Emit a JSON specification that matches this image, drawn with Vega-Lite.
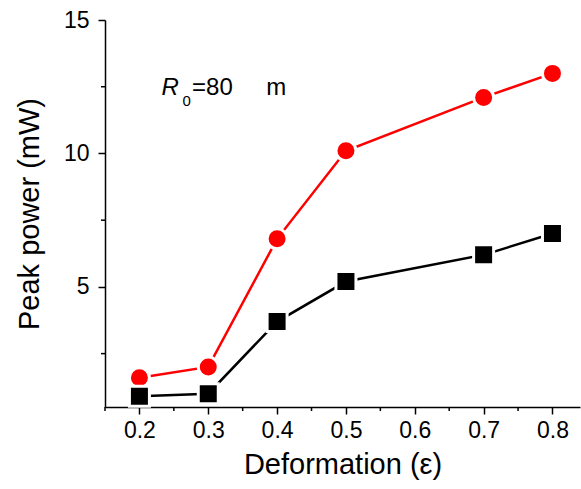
{
  "$schema": "https://vega.github.io/schema/vega-lite/v6.json",
  "autosize": "none",
  "width": 475,
  "height": 387,
  "padding": {"left": 105, "top": 20, "right": 1, "bottom": 82},
  "background": "white",
  "config": {
    "view": {"stroke": null},
    "font": "Liberation Sans",
    "axis": {"grid": false, "domainColor": "black", "tickColor": "black", "labelColor": "black", "titleColor": "black", "labelFont": "Liberation Sans", "titleFont": "Liberation Sans", "titleFontWeight": "normal", "domainWidth": 1.5, "tickWidth": 1.5}
  },
  "datasets": {
    "series": [
      {"eps": 0.2, "P": 1.6, "s": "red"},
      {"eps": 0.3, "P": 2.0, "s": "red"},
      {"eps": 0.4, "P": 6.8, "s": "red"},
      {"eps": 0.5, "P": 10.1, "s": "red"},
      {"eps": 0.7, "P": 12.1, "s": "red"},
      {"eps": 0.8, "P": 13.0, "s": "red"},
      {"eps": 0.2, "P": 0.9, "s": "black"},
      {"eps": 0.3, "P": 1.0, "s": "black"},
      {"eps": 0.4, "P": 3.7, "s": "black"},
      {"eps": 0.5, "P": 5.2, "s": "black"},
      {"eps": 0.7, "P": 6.2, "s": "black"},
      {"eps": 0.8, "P": 7.0, "s": "black"}
    ],
    "xminor": [{"v": 0.15}, {"v": 0.25}, {"v": 0.35}, {"v": 0.45}, {"v": 0.55}, {"v": 0.65}, {"v": 0.75}],
    "yminor": [{"v": 2.5}, {"v": 7.5}, {"v": 12.5}]
  },
  "layer": [
    {
      "data": {"name": "series"},
      "mark": {"type": "line", "strokeWidth": 2.5, "clip": false},
      "encoding": {
        "x": {"field": "eps", "type": "quantitative", "scale": {"domain": [0.15, 0.84], "nice": false, "zero": false},
              "axis": {"title": "Deformation (ε)", "values": [0.2, 0.3, 0.4, 0.5, 0.6, 0.7, 0.8], "format": ".1f",
                       "tickSize": 7, "labelFontSize": 23, "titleFontSize": 29, "labelPadding": 5, "titlePadding": 8, "labelOverlap": false, "labelFlush": false}},
        "y": {"field": "P", "type": "quantitative", "scale": {"domain": [0.5, 15], "nice": false, "zero": false},
              "axis": {"title": "Peak power (mW)", "values": [5, 10, 15], "format": "d",
                       "tickSize": 7, "labelFontSize": 23, "titleFontSize": 29, "labelPadding": 9, "titlePadding": 19, "labelOverlap": false, "labelFlush": false}},
        "color": {"field": "s", "type": "nominal", "scale": {"domain": ["red", "black"], "range": ["#ff0000", "#000000"]}, "legend": null},
        "detail": {"field": "s"}
      }
    },
    {
      "data": {"name": "series"},
      "mark": {"type": "point", "filled": true, "opacity": 1, "size": 400, "stroke": "white", "strokeWidth": 3},
      "encoding": {
        "x": {"field": "eps", "type": "quantitative"},
        "y": {"field": "P", "type": "quantitative"},
        "color": {"field": "s", "type": "nominal", "legend": null},
        "shape": {"field": "s", "type": "nominal", "scale": {"domain": ["red", "black"], "range": ["circle", "square"]}, "legend": null}
      }
    },
    {
      "data": {"name": "xminor"},
      "mark": {"type": "rule", "color": "black", "strokeWidth": 1.5, "clip": false},
      "encoding": {
        "x": {"field": "v", "type": "quantitative"},
        "y": {"datum": 0.5, "type": "quantitative"},
        "y2": {"datum": 0.35}
      }
    },
    {
      "data": {"name": "yminor"},
      "mark": {"type": "rule", "color": "black", "strokeWidth": 1.5, "clip": false},
      "encoding": {
        "y": {"field": "v", "type": "quantitative"},
        "x": {"datum": 0.15, "type": "quantitative"},
        "x2": {"datum": 0.1442}
      }
    },
    {
      "data": {"values": [{}]},
      "mark": {"type": "text", "text": "R", "fontStyle": "italic", "fontSize": 24, "align": "left", "baseline": "alphabetic"},
      "encoding": {"x": {"datum": 0.232, "type": "quantitative"}, "y": {"datum": 12.19, "type": "quantitative"}}
    },
    {
      "data": {"values": [{}]},
      "mark": {"type": "text", "text": "0", "fontSize": 15, "align": "left", "baseline": "alphabetic"},
      "encoding": {"x": {"datum": 0.2625, "type": "quantitative"}, "y": {"datum": 11.78, "type": "quantitative"}}
    },
    {
      "data": {"values": [{}]},
      "mark": {"type": "text", "text": "=80\u00a0\u00a0\u00a0\u00a0\u00a0m", "fontSize": 24, "align": "left", "baseline": "alphabetic"},
      "encoding": {"x": {"datum": 0.2765, "type": "quantitative"}, "y": {"datum": 12.19, "type": "quantitative"}}
    }
  ]
}
